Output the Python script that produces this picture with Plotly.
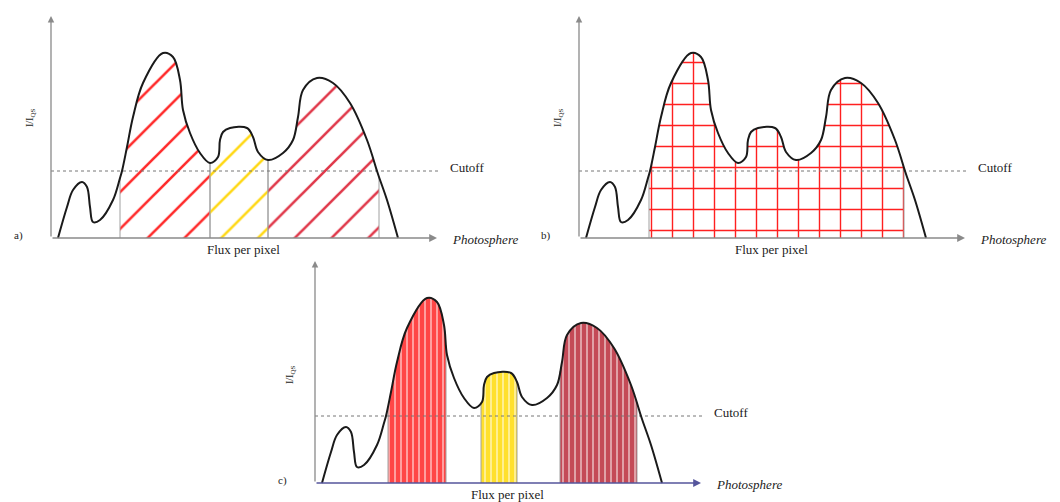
import numpy as np
import plotly.graph_objects as go

# Intensity profile (same schematic profile in the three panels), units ~ px
curve_x = [7, 16, 22, 31, 36, 39, 42, 49, 62, 69, 71, 76, 82, 92, 112, 122, 129, 132, 139, 149,
           159, 167, 169, 172, 179, 196, 202, 207, 217, 232, 242, 247, 252, 266, 282, 299, 316,
           326, 328, 336, 347]
curve_y = [0, 31, 48, 56, 51, 31, 16, 18, 38, 60, 67, 91, 121, 155, 185, 181, 158, 128, 105, 85,
           75, 81, 98, 106, 110, 110, 101, 86, 78, 85, 98, 121, 148, 160, 155, 135, 98,
           67, 61, 38, 0]
cutoff = 67

# region boundaries
a_bounds = [(69, 159), (159, 217), (217, 328)]
a_colors = ["#ff2a2a", "#ffd814", "#e0384a"]
b_bounds = [(70, 325)]
b_colors = ["#ff2020"]
c_bounds = [(73, 131), (166, 202), (245, 322)]
c_colors = ["#ff4646", "#ffe02e", "#c44a57"]

panel_labels = ["a)", "b)", "c)"]
ylabel = "I/I<sub>QS</sub>"
xlabel = "Flux per pixel"

# page body has an 8px margin: figure drawn 8px in from the window corner
OFF = 8
W, H = 1060 - OFF, 502 - OFF
# window pixel origin of each panel (axis corner)
origins = [(51, 238), (579, 238), (315, 483)]
XR = (-43, 480)
YR = (-18, 228)

FONT = "Liberation Serif"
fig = go.Figure()
layout = {}
annotations = []


def region_pts(x0, x1):
    xs = [x0] + [x for x in curve_x if x0 < x < x1] + [x1]
    ys = list(np.interp(xs, curve_x, curve_y))
    return xs, ys


for i, (sx, sy) in enumerate(origins):
    ox, oy = sx - OFF, sy - OFF
    n = "" if i == 0 else str(i + 1)
    xa, ya = "x" + n, "y" + n
    layout["xaxis" + n] = dict(domain=[max(0, (ox + XR[0]) / W), min(1, (ox + XR[1]) / W)],
                               range=list(XR), visible=False, anchor=ya)
    layout["yaxis" + n] = dict(domain=[max(0, (H - (oy - YR[0])) / H),
                                       min(1, (H - (oy - YR[1])) / H)],
                               range=list(YR), visible=False, anchor=xa)

    if i == 0:
        bounds, cols = a_bounds, a_colors
        pats = [dict(shape="/", fgcolor=c, fgopacity=1, bgcolor="rgba(0,0,0,0)", size=26,
                     solidity=0.1) for c in cols]
    elif i == 1:
        bounds, cols = b_bounds, b_colors
        pats = [dict(shape="+", fgcolor=c, fgopacity=1, bgcolor="rgba(0,0,0,0)", size=21,
                     solidity=0.13) for c in cols]
    else:
        bounds, cols = c_bounds, c_colors
        pats = [dict(shape="|", fgcolor="#ffffff", fgopacity=0.8, bgcolor=c, size=6,
                     solidity=0.2) for c in cols]

    for (x0, x1), p in zip(bounds, pats):
        xs, ys = region_pts(x0, x1)
        fig.add_trace(go.Scatter(x=xs, y=ys, mode="lines", line=dict(width=0, shape="spline"),
                                 fill="tozeroy", fillcolor="rgba(0,0,0,0)", fillpattern=p,
                                 xaxis=xa, yaxis=ya, hoverinfo="skip", showlegend=False))
        for xb in (x0, x1):
            yb = float(np.interp(xb, curve_x, curve_y))
            fig.add_trace(go.Scatter(x=[xb, xb], y=[0, yb], mode="lines",
                                     line=dict(color="#a0a0a0", width=1),
                                     xaxis=xa, yaxis=ya, hoverinfo="skip", showlegend=False))

    # cutoff dashed line
    fig.add_trace(go.Scatter(x=[0, 390], y=[cutoff, cutoff], mode="lines",
                             line=dict(color="#777777", width=1, dash="3px,3px"),
                             xaxis=xa, yaxis=ya, hoverinfo="skip", showlegend=False))
    # curve
    fig.add_trace(go.Scatter(x=curve_x, y=curve_y, mode="lines",
                             line=dict(color="#1a1a1a", width=2, shape="spline", smoothing=1),
                             xaxis=xa, yaxis=ya, hoverinfo="skip", showlegend=False))

    axcol = "#8a8a8a"
    xcol = "#55559c" if i == 2 else axcol
    # axes with arrows
    annotations.append(dict(x=386, y=0, ax=0, ay=0, xref=xa, yref=ya, axref=xa, ayref=ya,
                            text="", showarrow=True, arrowhead=2, arrowsize=1.2,
                            arrowwidth=1.3, arrowcolor=xcol))
    annotations.append(dict(x=0, y=222, ax=0, ay=0, xref=xa, yref=ya, axref=xa, ayref=ya,
                            text="", showarrow=True, arrowhead=2, arrowsize=1.0,
                            arrowwidth=1.3, arrowcolor=axcol))
    tf = dict(family=FONT, size=13, color="#222222")
    annotations.append(dict(x=397, y=71, xref=xa, yref=ya, text="Cutoff", showarrow=False,
                            xanchor="left", yanchor="middle", font=tf))
    annotations.append(dict(x=399, y=-1, xref=xa, yref=ya, text="<i>Photosphere</i>",
                            showarrow=False, xanchor="left", yanchor="middle", font=tf))
    annotations.append(dict(x=192, y=-11, xref=xa, yref=ya, text=xlabel, showarrow=False,
                            xanchor="center", yanchor="middle", font=tf))
    annotations.append(dict(x=-33, y=3, xref=xa, yref=ya, text=panel_labels[i], showarrow=False,
                            xanchor="center", yanchor="middle",
                            font=dict(family=FONT, size=11, color="#222222")))
    annotations.append(dict(x=-21 if i < 2 else -25, y=120 if i < 2 else 108, xref=xa, yref=ya,
                            text=ylabel, showarrow=False, textangle=-90,
                            xanchor="center", yanchor="middle",
                            font=dict(family=FONT, size=10, color="#222222")))

fig.update_layout(width=W, height=H, margin=dict(l=0, r=0, t=0, b=0),
                  paper_bgcolor="white", plot_bgcolor="rgba(0,0,0,0)",
                  annotations=annotations, showlegend=False, **layout)
fig.write_html("out.html")
